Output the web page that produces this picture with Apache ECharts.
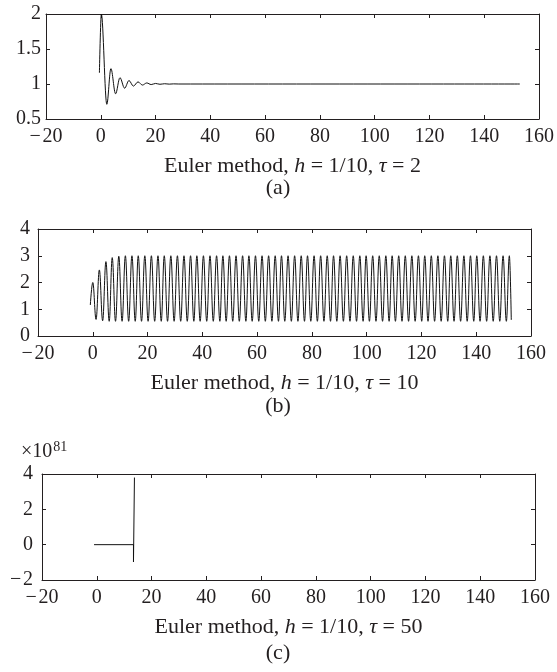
<!DOCTYPE html>
<html><head><meta charset="utf-8">
<script src="https://cdn.jsdelivr.net/npm/echarts@6/dist/echarts.min.js"></script>
<style>html,body{margin:0;padding:0;background:#fff}#c{width:557px;height:672px}</style>
</head><body><div id="c"></div>
<script>
// Panel (a): tau = 2, damped oscillation (extrema)
const aX = [-0.5, 0.2, 2.2, 3.7, 5.4, 7.0, 8.7, 10.3, 11.9, 13.6, 15.2, 16.8, 18.4, 20.0, 21.6, 23.3, 25.0, 26.6, 28.5, 153.0];
const aY = [1.16, 2.0, 0.71, 1.22, 0.86, 1.09, 0.94, 1.05, 0.97, 1.03, 0.985, 1.015, 0.992, 1.008, 0.996, 1.004, 0.998, 1.002, 1.0, 1.0];

// Panel (b): tau = 10, sustained oscillation (peaks and troughs)
const bStart = [-0.9, 1.16];
const bEnd = [152.8, 0.6];
const bPeakX = [0.0, 2.4, 4.8, 7.1, 9.5, 11.9, 14.3, 16.6, 19.0, 21.4, 23.8, 26.1, 28.5, 30.9, 33.3, 35.7,
  38.0, 40.4, 42.8, 45.2, 47.5, 49.9, 52.3, 54.7, 57.0, 59.4, 61.8, 64.2, 66.6, 68.9, 71.3, 73.7,
  76.1, 78.4, 80.8, 83.2, 85.6, 87.9, 90.3, 92.7, 95.1, 97.5, 99.8, 102.2, 104.6, 107.0, 109.3, 111.7,
  114.1, 116.5, 118.9, 121.2, 123.6, 126.0, 128.4, 130.7, 133.1, 135.5, 137.9, 140.2, 142.6, 145.0,
  147.4, 149.8, 152.1];
const bPeakY = [2.0, 2.47, 2.78, 2.93, 2.98, 3.0, 3.0, 3.0, 3.0, 3.0, 3.0, 3.0, 3.0, 3.0, 3.0, 3.0,
  3.0, 3.0, 3.0, 3.0, 3.0, 3.0, 3.0, 3.0, 3.0, 3.0, 3.0, 3.0, 3.0, 3.0, 3.0, 3.0,
  3.0, 3.0, 3.0, 3.0, 3.0, 3.0, 3.0, 3.0, 3.0, 3.0, 3.0, 3.0, 3.0, 3.0, 3.0, 3.0,
  3.0, 3.0, 3.0, 3.0, 3.0, 3.0, 3.0, 3.0, 3.0, 3.0, 3.0, 3.0, 3.0, 3.0,
  3.0, 3.0, 3.0];
const bTroughX = [1.2, 3.6, 6.0, 8.3, 10.7, 13.1, 15.5, 17.8, 20.2, 22.6, 25.0, 27.3, 29.7, 32.1, 34.5, 36.9,
  39.2, 41.6, 44.0, 46.4, 48.7, 51.1, 53.5, 55.9, 58.2, 60.6, 63.0, 65.4, 67.8, 70.1, 72.5, 74.9,
  77.3, 79.6, 82.0, 84.4, 86.8, 89.1, 91.5, 93.9, 96.3, 98.7, 101.0, 103.4, 105.8, 108.2, 110.5, 112.9,
  115.3, 117.7, 120.1, 122.4, 124.8, 127.2, 129.6, 131.9, 134.3, 136.7, 139.1, 141.4, 143.8, 146.2,
  148.6, 151.0];
const bTroughY = [0.62, 0.57, 0.55, 0.55, 0.55, 0.55, 0.55, 0.55, 0.55, 0.55, 0.55, 0.55, 0.55, 0.55, 0.55, 0.55,
  0.55, 0.55, 0.55, 0.55, 0.55, 0.55, 0.55, 0.55, 0.55, 0.55, 0.55, 0.55, 0.55, 0.55, 0.55, 0.55,
  0.55, 0.55, 0.55, 0.55, 0.55, 0.55, 0.55, 0.55, 0.55, 0.55, 0.55, 0.55, 0.55, 0.55, 0.55, 0.55,
  0.55, 0.55, 0.55, 0.55, 0.55, 0.55, 0.55, 0.55, 0.55, 0.55, 0.55, 0.55, 0.55, 0.55,
  0.55, 0.55];

// Panel (c): tau = 50, blow-up (values in units of 1e81)
const cX = [-1.0, 13.4, 13.4, 13.75];
const cY = [0, 0, -0.98, 3.8];

const titles = [
  {tau: '2', label: '(a)'},
  {tau: '10', label: '(b)'},
  {tau: '50', label: '(c)'}
];

const FONT = '"Liberation Serif", "DejaVu Serif", serif';
const TXT = '#231f20';
const FS = 20;
const TFS = 22;

const grids = [
  {left: 46, top: 14, width: 493, height: 105},
  {left: 38, top: 229, width: 493, height: 107},
  {left: 42, top: 474, width: 493, height: 106}
];
const yCfg = [
  {min: 0.5, max: 2, interval: 0.5, margin: 5},
  {min: 0, max: 4, interval: 1, margin: 8},
  {min: -2, max: 4, interval: 2, margin: 9}
];

function fmt(v) {
  return v < 0 ? '\u2212\u200a' + Math.abs(v) : String(v);
}

const xAxis = [], yAxis = [];
grids.forEach((g, i) => {
  const lineStyle = {color: '#231f20', width: 1};
  const tick = {show: true, inside: true, length: 4, lineStyle: {color: '#231f20', width: 1}};
  xAxis.push({type: 'value', gridIndex: i, position: 'bottom', min: -20, max: 160, interval: 20,
    axisLine: {show: true, onZero: false, lineStyle}, axisTick: tick, splitLine: {show: false},
    axisLabel: {show: true, margin: 8, color: TXT, fontFamily: FONT, fontSize: FS, formatter: fmt,
      showMinLabel: true, showMaxLabel: true}});
  xAxis.push({type: 'value', gridIndex: i, position: 'top', min: -20, max: 160, interval: 20,
    axisLine: {show: true, onZero: false, lineStyle}, axisTick: tick, splitLine: {show: false},
    axisLabel: {show: false}});
  const y = yCfg[i];
  yAxis.push({type: 'value', gridIndex: i, position: 'left', min: y.min, max: y.max, interval: y.interval,
    axisLine: {show: true, onZero: false, lineStyle}, axisTick: tick, splitLine: {show: false},
    axisLabel: {show: true, margin: y.margin, color: TXT, fontFamily: FONT, fontSize: FS, formatter: fmt,
      showMinLabel: true, showMaxLabel: true}});
  yAxis.push({type: 'value', gridIndex: i, position: 'right', min: y.min, max: y.max, interval: y.interval,
    axisLine: {show: true, onZero: false, lineStyle}, axisTick: tick, splitLine: {show: false},
    axisLabel: {show: false}});
});

const aData = aX.map((x, i) => [x, aY[i]]);
const bData = [bStart];
bPeakX.forEach((x, i) => {
  bData.push([x, bPeakY[i]]);
  if (i < bTroughX.length) bData.push([bTroughX[i], bTroughY[i]]);
});
bData.push(bEnd);
const cData = cX.map((x, i) => [x, cY[i]]);

const lineCommon = {type: 'line', showSymbol: false, symbol: 'none', silent: true, animation: false,
  lineStyle: {color: '#111', width: 1}, clip: true};

const series = [
  Object.assign({}, lineCommon, {xAxisIndex: 0, yAxisIndex: 0, data: aData, smooth: 0.35, smoothMonotone: 'x'}),
  Object.assign({}, lineCommon, {xAxisIndex: 2, yAxisIndex: 2, data: bData, smooth: 0.4, smoothMonotone: 'x'}),
  Object.assign({}, lineCommon, {xAxisIndex: 4, yAxisIndex: 4, data: cData, smooth: false})
];

const titleY = [166, 383, 627];
const labelY = [188, 406, 653];
const graphic = [];
grids.forEach((g, i) => {
  graphic.push({type: 'text', silent: true,
    x: g.left + g.width / 2, y: titleY[i],
    style: {text: 'Euler method, {i|h} = 1/10, {i|\u03c4} = ' + titles[i].tau,
      textAlign: 'center', textVerticalAlign: 'middle', fill: TXT,
      font: TFS + 'px ' + FONT,
      rich: {i: {fontStyle: 'italic', fontFamily: FONT, fontSize: TFS, fill: TXT}}}});
  graphic.push({type: 'text', silent: true, x: 278, y: labelY[i],
    style: {text: titles[i].label, textAlign: 'center', textVerticalAlign: 'middle', fill: TXT,
      font: TFS + 'px ' + FONT}});
});
graphic.push({type: 'text', silent: true, x: 21, y: 452,
  style: {text: '\u00d710{s|81}', textAlign: 'left', textVerticalAlign: 'middle', fill: TXT,
    font: FS + 'px ' + FONT,
    rich: {s: {fontSize: 14, fontFamily: FONT, fill: TXT, verticalAlign: 'top', padding: [0, 0, 9, 1]}}}});

const chart = echarts.init(document.getElementById('c'), null, {renderer: 'canvas'});
chart.setOption({
  backgroundColor: '#fff',
  animation: false,
  grid: grids.map(g => Object.assign({containLabel: false}, g)),
  xAxis, yAxis, series, graphic
});
</script></body></html>
